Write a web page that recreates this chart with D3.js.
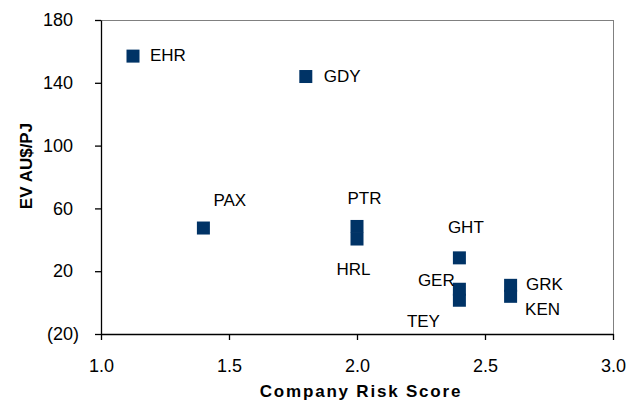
<!DOCTYPE html>
<html><head><meta charset="utf-8">
<script src="https://cdn.jsdelivr.net/npm/d3@7"></script>
<style>
html,body{margin:0;padding:0;background:#fff;}
svg{display:block;font-family:"Liberation Sans",Arial,sans-serif;}
</style></head>
<body><svg id="c" width="642" height="402"></svg>
<script>
// Data
const companies = ["EHR","GDY","PAX","PTR","HRL","GHT","GER","TEY","GRK","KEN"];
const riskScore = [1.125,1.8,1.4,2.0,2.0,2.4,2.4,2.4,2.6,2.6];
const evPerPJ   = [157,144,47.5,48.5,40.5,28.5,8.5,1.5,11,4];
const xTicks = [1.0,1.5,2.0,2.5,3.0];
const yTicks = [-20,20,60,100,140,180];
// label offsets (px) from marker centre
const labelDx = [17,18,10,-9.5,-20.5,-11.5,-41.5,-52.5,15.5,14.5];
const labelDy = [5,5,-22,-22.5,36,-25,-3.5,27,4.5,19];

const svg = d3.select("#c");
const L=101, R=613, T=20, B=334;
const x = d3.scaleLinear().domain([1,3]).range([L,R]);
const y = d3.scaleLinear().domain([-20,180]).range([B,T]);

// frame top/right
svg.append("line").attr("x1",L).attr("x2",R).attr("y1",T+0.5).attr("y2",T+0.5).attr("stroke","#808080").attr("stroke-width",1);
svg.append("line").attr("x1",R+0.5).attr("x2",R+0.5).attr("y1",T).attr("y2",B).attr("stroke","#808080").attr("stroke-width",1);

const xAxis = svg.append("g").attr("transform",`translate(0,${B})`)
  .call(d3.axisBottom(x).tickValues(xTicks).tickFormat(d3.format(".1f")).tickSize(6).tickSizeOuter(0).tickPadding(14));
const yAxis = svg.append("g").attr("transform",`translate(${L},0)`)
  .call(d3.axisLeft(y).tickValues(yTicks).tickFormat(d=> d<0 ? "("+Math.abs(d)+")" : String(d)).tickSize(6).tickSizeOuter(0).tickPadding(16));
[xAxis,yAxis].forEach(g=>{
  g.select(".domain").attr("stroke","#000").attr("stroke-width",1.3);
  g.selectAll(".tick line").attr("stroke","#000").attr("stroke-width",1.3);
  g.selectAll("text").attr("font-size",18).attr("fill","#000").attr("font-family","Liberation Sans, Arial, sans-serif");
});
yAxis.selectAll(".tick text").attr("dx", d=> d<0 ? 0 : -6);
xAxis.selectAll(".tick text").attr("dy","1.0em");

// markers
const s=13;
svg.append("g").selectAll("rect").data(companies).join("rect")
  .attr("x",(d,i)=>x(riskScore[i])-s/2).attr("y",(d,i)=>y(evPerPJ[i])-s/2)
  .attr("width",s).attr("height",s).attr("fill","#003366");

// labels
svg.append("g").selectAll("text").data(companies).join("text")
  .attr("x",(d,i)=>x(riskScore[i])+labelDx[i]).attr("y",(d,i)=>y(evPerPJ[i])+labelDy[i])
  .attr("font-size",17).attr("fill","#000").text(d=>d);

// axis titles
svg.append("text").attr("x",361).attr("y",397).attr("text-anchor","middle")
  .attr("font-size",17).attr("font-weight","bold").attr("letter-spacing","1.8px").text("Company Risk Score");
svg.append("text").attr("transform","translate(32,166) rotate(-90)").attr("text-anchor","middle")
  .attr("font-size",17).attr("font-weight","bold").text("EV AU$/PJ");
</script></body></html>
